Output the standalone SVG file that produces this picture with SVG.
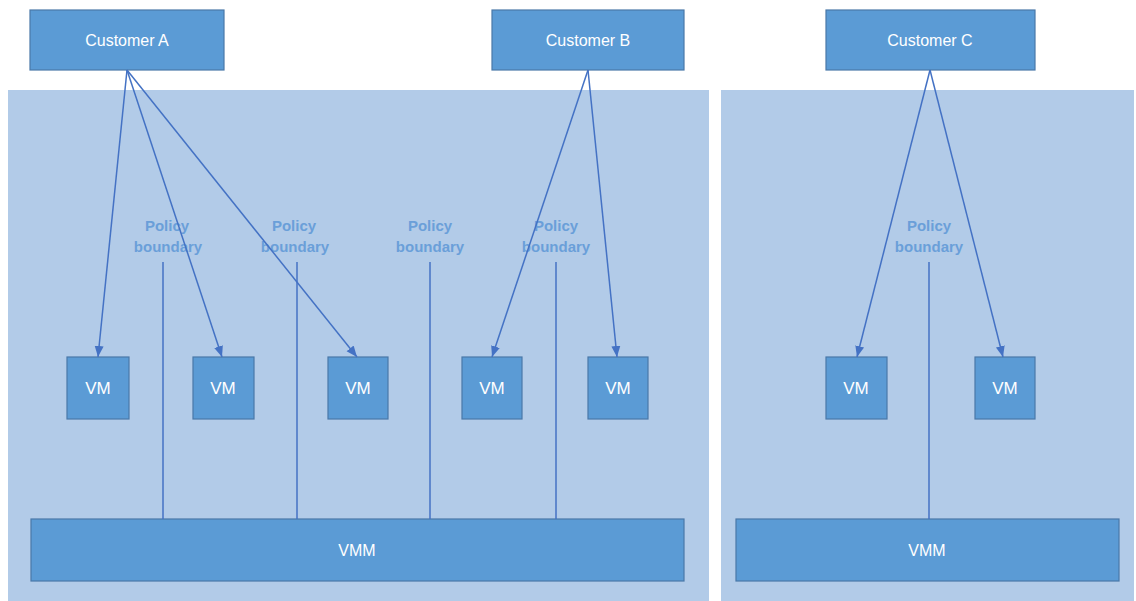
<svg xmlns="http://www.w3.org/2000/svg" width="1136" height="601" viewBox="0 0 1136 601">
  <style>
    .panel { fill: #b2cbe8; }
    .box { fill: #5b9bd5; stroke: #4a78a8; stroke-width: 1.2; }
    .lbl { fill: #ffffff; font-family: "Liberation Sans", Arial, sans-serif; font-size: 16px; text-anchor: middle; dominant-baseline: central; }
    .vm { font-size: 17px; }
    .pol { fill: #6a9fd9; font-family: "Liberation Sans", Arial, sans-serif; font-size: 15px; font-weight: bold; text-anchor: middle; }
    .edge { stroke: #4472c4; stroke-width: 1.5; fill: none; }
    .arrow { marker-end: url(#head); }
  </style>
  <defs>
    <marker id="head" markerUnits="userSpaceOnUse" markerWidth="12" markerHeight="12" viewBox="0 0 12 12" refX="11" refY="6" orient="auto">
      <path d="M0,1.5 L11,6 L0,10.5 Z" fill="#4472c4"/>
    </marker>
  </defs>

  <rect width="1136" height="601" fill="#ffffff"/>

  <!-- hosting areas -->
  <g id="host-left"><rect class="panel" x="8" y="90" width="701" height="511"/></g>
  <g id="host-right"><rect class="panel" x="721" y="90" width="413" height="511"/></g>

  <!-- customers -->
  <g id="customer-a"><rect class="box" x="30" y="10" width="194" height="60"/><text class="lbl" x="127" y="40">Customer A</text></g>
  <g id="customer-b"><rect class="box" x="492" y="10" width="192" height="60"/><text class="lbl" x="588" y="40">Customer B</text></g>
  <g id="customer-c"><rect class="box" x="826" y="10" width="209" height="60"/><text class="lbl" x="930" y="40">Customer C</text></g>

  <!-- virtual machines -->
  <g id="vm-1"><rect class="box" x="67" y="357" width="62" height="62"/><text class="lbl vm" x="98" y="388">VM</text></g>
  <g id="vm-2"><rect class="box" x="193" y="357" width="61" height="62"/><text class="lbl vm" x="223" y="388">VM</text></g>
  <g id="vm-3"><rect class="box" x="328" y="357" width="60" height="62"/><text class="lbl vm" x="358" y="388">VM</text></g>
  <g id="vm-4"><rect class="box" x="462" y="357" width="60" height="62"/><text class="lbl vm" x="492" y="388">VM</text></g>
  <g id="vm-5"><rect class="box" x="588" y="357" width="60" height="62"/><text class="lbl vm" x="618" y="388">VM</text></g>
  <g id="vm-6"><rect class="box" x="826" y="357" width="61" height="62"/><text class="lbl vm" x="856" y="388">VM</text></g>
  <g id="vm-7"><rect class="box" x="975" y="357" width="60" height="62"/><text class="lbl vm" x="1005" y="388">VM</text></g>

  <!-- hypervisors -->
  <g id="vmm-left"><rect class="box" x="31" y="519" width="653" height="62"/><text class="lbl" x="357" y="550">VMM</text></g>
  <g id="vmm-right"><rect class="box" x="736" y="519" width="383" height="62"/><text class="lbl" x="927" y="550">VMM</text></g>

  <!-- policy boundary labels -->
  <g id="policy-1"><text class="pol" x="167" y="231">Policy</text><text class="pol" x="168" y="252">boundary</text></g>
  <g id="policy-2"><text class="pol" x="294" y="231">Policy</text><text class="pol" x="295" y="252">boundary</text></g>
  <g id="policy-3"><text class="pol" x="430" y="231">Policy</text><text class="pol" x="430" y="252">boundary</text></g>
  <g id="policy-4"><text class="pol" x="556" y="231">Policy</text><text class="pol" x="556" y="252">boundary</text></g>
  <g id="policy-5"><text class="pol" x="929" y="231">Policy</text><text class="pol" x="929" y="252">boundary</text></g>

  <!-- connectors -->
  <g id="connectors">
    <line class="edge arrow" x1="127" y1="70" x2="98" y2="357"/>
    <line class="edge arrow" x1="127" y1="70" x2="222" y2="357"/>
    <line class="edge arrow" x1="127" y1="70" x2="357" y2="357"/>
    <line class="edge arrow" x1="588" y1="70" x2="492" y2="357"/>
    <line class="edge arrow" x1="588" y1="70" x2="617" y2="357"/>
    <line class="edge arrow" x1="930" y1="70" x2="857" y2="357"/>
    <line class="edge arrow" x1="930" y1="70" x2="1003" y2="357"/>
    <line class="edge" x1="163" y1="262" x2="163" y2="519"/>
    <line class="edge" x1="297" y1="262" x2="297" y2="519"/>
    <line class="edge" x1="430" y1="262" x2="430" y2="519"/>
    <line class="edge" x1="556" y1="262" x2="556" y2="519"/>
    <line class="edge" x1="929" y1="262" x2="929" y2="519"/>
  </g>
</svg>
